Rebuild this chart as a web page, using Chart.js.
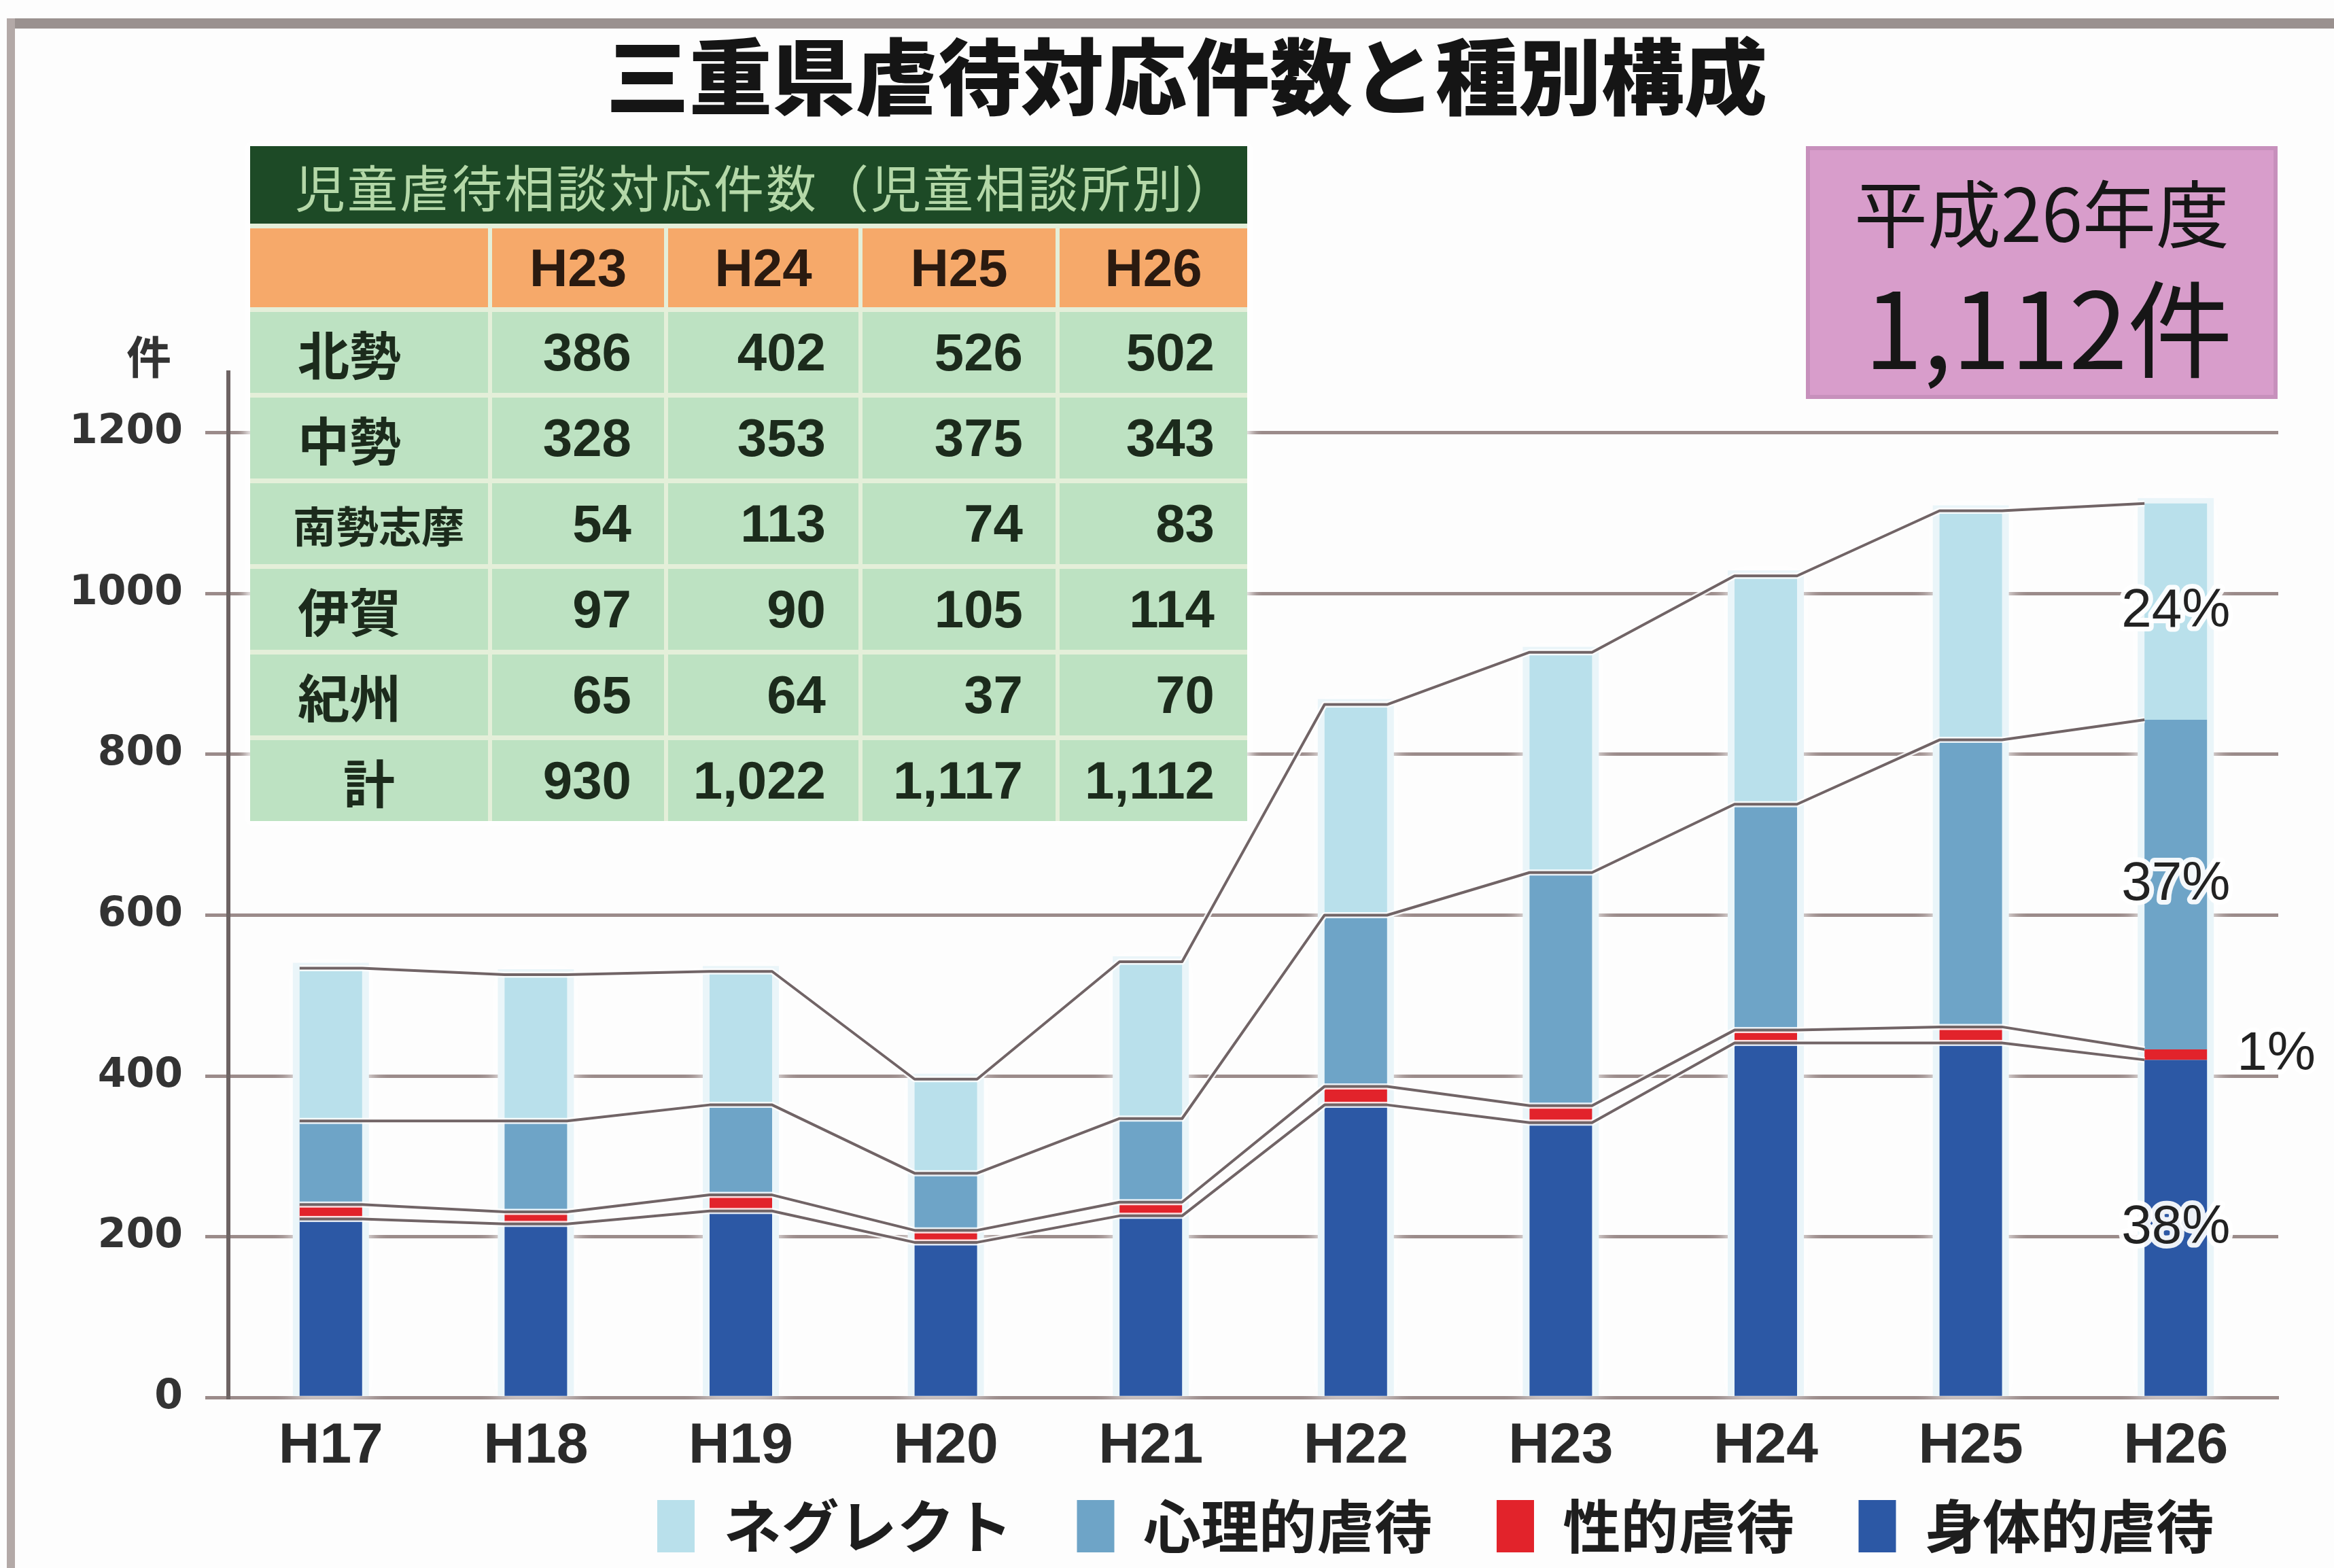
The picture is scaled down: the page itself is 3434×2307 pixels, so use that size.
<!DOCTYPE html>
<html lang="ja">
<head>
<meta charset="utf-8">
<title>三重県虐待対応件数と種別構成</title>
<script src="https://cdn.jsdelivr.net/npm/chart.js@4.4.1/dist/chart.umd.min.js"></script>
<style>
  html, body { margin: 0; padding: 0; background: #fdfdfd; }
  #wrap { position: relative; width: 3434px; height: 2307px; overflow: hidden; font-family: "Noto Sans CJK JP", sans-serif; }
  #chart { position: absolute; left: 0; top: 0; }
  .frame-top { position: absolute; left: 10px; top: 27px; width: 3424px; height: 15px; background: #9a918f; }
  .frame-left { position: absolute; left: 10px; top: 27px; width: 12px; height: 2280px; background: #b3a9a7; }
  #title { position: absolute; left: 58px; width: 3376px; top: 36px; line-height: 140px; text-align: center;
           font-size: 122px; font-weight: 900; color: #151515; }
  #unit { position: absolute; left: 186px; top: 480px; font-size: 66px; font-weight: bold; color: #333; line-height: 82px; }
  #table { position: absolute; left: 368px; top: 215px; width: 1467px; display: grid;
           grid-template-columns: 350px 253px 280px 284px 276px;
           grid-template-rows: 114px 116px repeat(6, 119px);
           gap: 7px 6px; background: #e4efd9; box-shadow: 0 0 14px 6px rgba(255,255,255,0.9); }
  #table .cap { grid-column: 1 / -1; background: #1d4a26; color: #b4d8a8; font-size: 74px; letter-spacing: 3px;
                display: flex; align-items: center; padding-left: 66px; }
  #table .yr { background: #f6a96a; display: flex; align-items: center; justify-content: center;
               font-family: "Liberation Sans", sans-serif; font-weight: bold; font-size: 78px; color: #2a1a10; }
  #table .lab { background: #bde2c2; display: flex; align-items: center; padding-left: 70px;
                font-weight: bold; font-size: 76px; color: #1c2b1c; }
  #table .lab.narrow { font-size: 63px; padding-left: 63px; }
  #table .lab.total { justify-content: center; padding-left: 0; }
  #table .num { background: #bde2c2; display: flex; align-items: center; justify-content: flex-end; padding-right: 48px;
                font-family: "Liberation Sans", sans-serif; font-weight: bold; font-size: 78px; color: #1c2b1c; }
  #badge { position: absolute; left: 2657px; top: 215px; width: 694px; height: 372px; box-sizing: border-box;
           background: #d89dcb; border: 6px solid #c790bc; color: #161616; }
  #badge .l1 { position: absolute; left: 0; right: 0; top: 30px; text-align: center; font-size: 108px; line-height: 116px; }
  #badge .l2 { position: absolute; right: 60px; top: 170px; font-size: 155px; line-height: 170px; }
</style>
</head>
<body>
<div id="wrap">
  <canvas id="chart" width="3434" height="2307"></canvas>
  <div class="frame-top"></div>
  <div class="frame-left"></div>
  <div id="title">三重県虐待対応件数と種別構成</div>
  <div id="unit">件</div>
  <div id="table"><div class="cap">児童虐待相談対応件数（児童相談所別）</div></div>
  <div id="badge"><div class="l1">平成26年度</div><div class="l2">1,112件</div></div>
</div>
<script>
// 種別ごとの件数
const categories = ["H17", "H18", "H19", "H20", "H21", "H22", "H23", "H24", "H25", "H26"];
const physicalAbuse = [222, 216, 232, 193, 226, 364, 342, 441, 441, 420];
const sexualAbuse = [18, 15, 20, 15, 17, 23, 21, 16, 20, 13];
const psychAbuse = [104, 113, 112, 71, 104, 213, 290, 281, 357, 410];
const neglectCases = [190, 182, 166, 117, 195, 262, 274, 284, 285, 269];
const yTicks = [0, 200, 400, 600, 800, 1000, 1200];

// 児童相談所別の表
const tableYears = ["H23", "H24", "H25", "H26"];
const regionNames = ["北勢", "中勢", "南勢志摩", "伊賀", "紀州"];
const hokusei = [386, 402, 526, 502];
const chusei = [328, 353, 375, 343];
const nanseiShima = [54, 113, 74, 83];
const iga = [97, 90, 105, 114];
const kishu = [65, 64, 37, 70];

const colors = {
  neglect: "#b9e0eb",
  psych: "#6ea4c7",
  sexual: "#e2232b",
  physical: "#2c58a5",
};

function buildTable() {
  const table = document.getElementById("table");
  const add = (cls, text) => {
    const div = document.createElement("div");
    div.className = cls;
    div.textContent = text;
    table.appendChild(div);
  };
  add("yr", "");
  tableYears.forEach((y) => add("yr", y));

  const rows = [hokusei, chusei, nanseiShima, iga, kishu];
  rows.forEach((row, i) => {
    add(regionNames[i].length > 2 ? "lab narrow" : "lab", regionNames[i]);
    row.forEach((v) => add("num", v.toLocaleString("en-US")));
  });
  add("lab total", "計");
  tableYears.forEach((_, c) => {
    const sum = rows.reduce((s, r) => s + r[c], 0);
    add("num", sum.toLocaleString("en-US"));
  });
}
buildTable();

// 棒の周りの白いぼかし
const barGlow = {
  id: "barGlow",
  beforeDatasetsDraw(chart) {
    const ctx = chart.ctx;
    const bottomMeta = chart.getDatasetMeta(0);
    const topMeta = chart.getDatasetMeta(chart.data.datasets.length - 1);
    ctx.save();
    ctx.shadowColor = "rgba(255,255,255,1)";
    ctx.shadowBlur = 26;
    ctx.fillStyle = "#eaf5f9";
    topMeta.data.forEach((el, i) => {
      const base = bottomMeta.data[i].base;
      ctx.fillRect(el.x - el.width / 2 - 10, el.y - 8, el.width + 20, base - el.y + 8);
    });
    ctx.restore();
  },
};

// 区分線（各系列の上端を結ぶ線）
const seriesLines = {
  id: "seriesLines",
  afterDatasetsDraw(chart) {
    const ctx = chart.ctx;
    chart.data.datasets.forEach((ds, d) => {
      const meta = chart.getDatasetMeta(d);
      const pts = [];
      meta.data.forEach((el, i) => {
        pts.push([el.x - el.width / 2, el.y]);
        if (i < meta.data.length - 1) pts.push([el.x + el.width / 2, el.y]);
      });
      ctx.save();
      ctx.lineJoin = "round";
      [["rgba(255,255,255,0.85)", 9], ["#716466", 4]].forEach(([c, w]) => {
        ctx.beginPath();
        pts.forEach(([x, y], k) => (k ? ctx.lineTo(x, y) : ctx.moveTo(x, y)));
        ctx.strokeStyle = c;
        ctx.lineWidth = w;
        ctx.stroke();
      });
      ctx.restore();
    });
  },
};

// 最新年度の構成比
const shareLabels = {
  id: "shareLabels",
  afterDatasetsDraw(chart) {
    const ctx = chart.ctx;
    const last = categories.length - 1;
    const total = chart.data.datasets.reduce((s, ds) => s + ds.data[last], 0);
    ctx.save();
    ctx.font = '80px "Liberation Sans", sans-serif';
    ctx.textBaseline = "middle";
    ctx.lineJoin = "round";
    chart.data.datasets.forEach((ds, d) => {
      const el = chart.getDatasetMeta(d).data[last];
      const text = Math.round((ds.data[last] / total) * 100) + "%";
      const mid = (el.y + el.base) / 2;
      let x = el.x;
      if (Math.abs(el.base - el.y) < 70) {
        ctx.textAlign = "left";
        x = el.x + el.width / 2 + 44;
      } else {
        ctx.textAlign = "center";
      }
      ctx.lineWidth = 14;
      ctx.strokeStyle = "rgba(255,255,255,0.92)";
      ctx.strokeText(text, x, mid);
      ctx.fillStyle = "#222";
      ctx.fillText(text, x, mid);
    });
    ctx.restore();
  },
};

const dataset = (label, data, color) => ({
  label,
  data,
  backgroundColor: color,
  borderWidth: 0,
  categoryPercentage: 0.305,
  barPercentage: 1,
});

new Chart(document.getElementById("chart"), {
  type: "bar",
  data: {
    labels: categories,
    datasets: [
      dataset("身体的虐待", physicalAbuse, colors.physical),
      dataset("性的虐待", sexualAbuse, colors.sexual),
      dataset("心理的虐待", psychAbuse, colors.psych),
      dataset("ネグレクト", neglectCases, colors.neglect),
    ],
  },
  options: {
    responsive: false,
    animation: false,
    devicePixelRatio: 1,
    layout: { padding: { left: 69, right: 82, top: 548, bottom: 9 } },
    scales: {
      x: {
        stacked: true,
        grid: { display: false },
        border: { display: true, color: "#9b8b8a", width: 5 },
        ticks: {
          padding: 14,
          color: "#2a2a2a",
          font: { family: '"Liberation Sans", sans-serif', size: 84, weight: "bold" },
        },
      },
      y: {
        stacked: true,
        min: 0,
        max: 1275,
        afterBuildTicks: (scale) => {
          scale.ticks = yTicks.map((v) => ({ value: v }));
        },
        grid: { color: "#9b8b8a", lineWidth: 5, tickLength: 34, drawTicks: true },
        border: { display: true, color: "#6d6363", width: 6 },
        ticks: {
          padding: 33,
          color: "#333",
          font: { family: '"DejaVu Sans", sans-serif', size: 60, weight: "bold" },
          callback: (value) => String(value),
        },
      },
    },
    plugins: {
      tooltip: { enabled: false },
      legend: {
        position: "bottom",
        align: "end",
        reverse: true,
        labels: {
          boxWidth: 55,
          boxHeight: 77,
          padding: 10,
          color: "#1e1e1e",
          font: { family: '"Noto Sans CJK JP", sans-serif', size: 85, weight: "bold" },
          generateLabels: (chart) =>
            Chart.defaults.plugins.legend.labels.generateLabels(chart).map((item) => ({
              ...item,
              text: item.text + "\u2003",
            })),
        },
      },
    },
  },
  plugins: [barGlow, seriesLines, shareLabels],
});
</script>
</body>
</html>
